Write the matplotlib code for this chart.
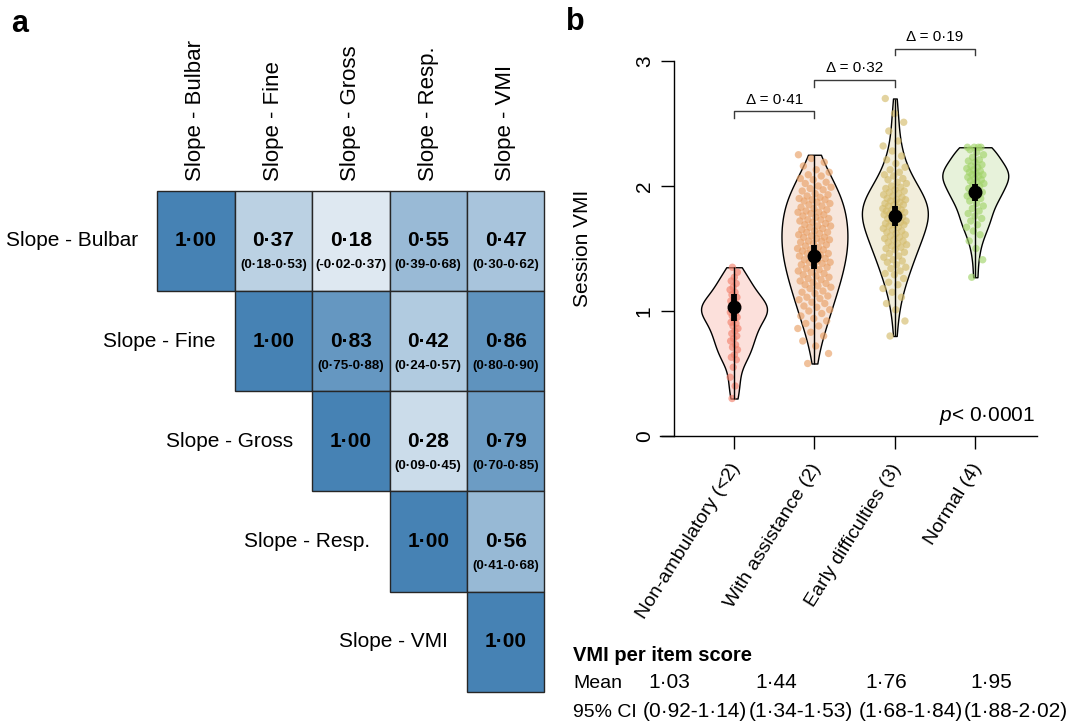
import numpy as np
import matplotlib
matplotlib.use('Agg')
import matplotlib.pyplot as plt
from matplotlib.colors import LinearSegmentedColormap
from matplotlib.patches import Rectangle
import matplotlib.transforms as mtransforms

plt.rcParams['font.family'] = ['Liberation Sans', 'DejaVu Sans']
plt.rcParams['mathtext.fontset'] = 'custom'
plt.rcParams['mathtext.it'] = 'Liberation Sans:italic'
plt.rcParams['mathtext.rm'] = 'Liberation Sans'

# ---------------- Panel a data ----------------
slope_labels = ['Slope - Bulbar', 'Slope - Fine', 'Slope - Gross', 'Slope - Resp.', 'Slope - VMI']
nan = np.nan
corr_r = [
    [1.00, 0.37, 0.18, 0.55, 0.47],
    [nan, 1.00, 0.83, 0.42, 0.86],
    [nan, nan, 1.00, 0.28, 0.79],
    [nan, nan, nan, 1.00, 0.56],
    [nan, nan, nan, nan, 1.00],
]
corr_lo = [
    [nan, 0.18, -0.02, 0.39, 0.30],
    [nan, nan, 0.75, 0.24, 0.80],
    [nan, nan, nan, 0.09, 0.70],
    [nan, nan, nan, nan, 0.41],
    [nan, nan, nan, nan, nan],
]
corr_hi = [
    [nan, 0.53, 0.37, 0.68, 0.62],
    [nan, nan, 0.88, 0.57, 0.90],
    [nan, nan, nan, 0.45, 0.85],
    [nan, nan, nan, nan, 0.68],
    [nan, nan, nan, nan, nan],
]

# ---------------- Panel b data ----------------
group_labels = ['Non-ambulatory (<2)', 'With assistance (2)', 'Early difficulties (3)', 'Normal (4)']
vmi_nonamb = [1.35, 1.31, 1.27, 1.24, 1.22, 1.19, 1.17, 1.15, 1.13, 1.11, 1.09, 1.08, 1.06,
              1.05, 1.04, 1.03, 1.02, 1.01, 1.00, 0.99, 0.98, 0.96, 0.95, 0.93, 0.91, 0.90,
              0.88, 0.86, 0.84, 0.82, 0.80, 0.78, 0.76, 0.73, 0.71, 0.69, 0.65, 0.63, 0.61,
              0.55, 0.47, 0.40, 0.30]
vmi_assist = [0.58, 0.66, 0.72, 0.76, 0.80, 0.83, 0.86, 0.88, 0.90, 0.92, 0.94, 0.96, 0.98,
              1.00, 1.01, 1.03, 1.04, 1.06, 1.07, 1.09,
              1.10, 1.11, 1.12, 1.14, 1.15, 1.16, 1.18, 1.19,
              1.20, 1.21, 1.22, 1.23, 1.24, 1.25, 1.26, 1.27, 1.28, 1.29,
              1.30, 1.31, 1.32, 1.33, 1.34, 1.35, 1.36, 1.37, 1.38, 1.39, 1.39,
              1.40, 1.41, 1.42, 1.43, 1.44, 1.45, 1.46, 1.46, 1.47, 1.48, 1.49, 1.49,
              1.50, 1.51, 1.52, 1.53, 1.54, 1.55, 1.56, 1.56, 1.57, 1.58, 1.59, 1.59,
              1.60, 1.61, 1.62, 1.63, 1.63, 1.64, 1.65, 1.66, 1.67, 1.68, 1.68, 1.69,
              1.70, 1.71, 1.72, 1.73, 1.73, 1.74, 1.75, 1.76, 1.77, 1.78, 1.79, 1.79,
              1.80, 1.81, 1.82, 1.83, 1.84, 1.85, 1.86, 1.87, 1.88, 1.89, 1.89,
              1.90, 1.91, 1.92, 1.93, 1.94, 1.96, 1.97, 1.98, 1.99,
              2.00, 2.02, 2.03, 2.05, 2.06, 2.08, 2.09,
              2.11, 2.13, 2.16, 2.19, 2.22, 2.25]
vmi_early = [0.80, 0.92, 1.01, 1.06, 1.11, 1.15, 1.18, 1.21, 1.23, 1.26, 1.29,
             1.30, 1.32, 1.34, 1.35, 1.37, 1.39,
             1.40, 1.41, 1.43, 1.44, 1.46, 1.47, 1.49,
             1.50, 1.51, 1.52, 1.53, 1.54, 1.55, 1.56, 1.57, 1.58, 1.59,
             1.60, 1.61, 1.62, 1.63, 1.64, 1.65, 1.66, 1.67, 1.68, 1.69, 1.69,
             1.70, 1.71, 1.72, 1.72, 1.73, 1.74, 1.75, 1.76, 1.77, 1.78, 1.78, 1.79, 1.79,
             1.80, 1.81, 1.81, 1.82, 1.83, 1.84, 1.85, 1.85, 1.86, 1.87, 1.88, 1.89, 1.89,
             1.90, 1.91, 1.92, 1.93, 1.94, 1.95, 1.96, 1.97, 1.98, 1.99,
             2.00, 2.02, 2.03, 2.05, 2.06, 2.08, 2.09,
             2.11, 2.13, 2.15, 2.18, 2.21, 2.24, 2.28,
             2.32, 2.36, 2.44, 2.51, 2.58, 2.70]
vmi_normal = [1.27, 1.41, 1.50, 1.56, 1.61, 1.64, 1.67, 1.69, 1.72, 1.74, 1.76, 1.78, 1.80,
              1.82, 1.84, 1.86, 1.88, 1.90, 1.91, 1.92, 1.93, 1.94, 1.95, 1.96, 1.98,
              2.00, 2.01, 2.02, 2.03, 2.04, 2.05, 2.06, 2.07, 2.08, 2.09, 2.09,
              2.10, 2.11, 2.12, 2.13, 2.14, 2.15, 2.16, 2.17, 2.19,
              2.20, 2.21, 2.23, 2.25, 2.27, 2.29, 2.31, 2.31, 2.31, 2.31]
vmi_means = [1.03, 1.44, 1.76, 1.95]
vmi_ci_lo = [0.92, 1.34, 1.68, 1.88]
vmi_ci_hi = [1.14, 1.53, 1.84, 2.02]
deltas = [0.41, 0.32, 0.19]
p_value_text = '< 0·0001'

point_colors = ['#F3836F', '#E9A066', '#D4BC6C', '#A2D46A']
fill_colors = ['#FCE0DB', '#F7E6DC', '#F2EEDC', '#E7F2DA']


def fmt(v):
    return f'{v:.2f}'.replace('.', '·')


W, H = 1069, 723
fig = plt.figure(figsize=(W / 100, H / 100), dpi=100)


def fx(px):
    return px / W


def fy(py):
    return 1 - py / H


# ================= Panel a =================
L, R_, T, B = 157.3, 544.3, 190.7, 692.0
ax_a = fig.add_axes([fx(L), fy(B), (R_ - L) / W, (B - T) / H])
cmap = LinearSegmentedColormap.from_list('wb', ['#FFFFFF', '#4682B4'])
ax_a.set_xlim(0, 5)
ax_a.set_ylim(5, 0)
ax_a.axis('off')
n = len(slope_labels)
for i in range(n):
    for j in range(n):
        v = corr_r[i][j]
        if np.isnan(v):
            continue
        ax_a.add_patch(Rectangle((j, i), 1, 1, facecolor=cmap(v), edgecolor='#262626',
                                 linewidth=1.0, clip_on=False))
        ax_a.text(j + 0.5, i + 0.5, fmt(v), ha='center', va='center',
                  fontsize=15, fontweight='bold', color='black')
        lo, hi = corr_lo[i][j], corr_hi[i][j]
        if not np.isnan(lo):
            ax_a.text(j + 0.5, i + 0.745, f'({fmt(lo)}-{fmt(hi)})', ha='center',
                      va='center', fontsize=9.6, fontweight='bold', color='black')

cw = (R_ - L) / n
rh = (B - T) / n
for k, lab in enumerate(slope_labels):
    fig.text(fx(L + cw * (k + 0.5)), fy(181), lab, rotation=90, ha='center', va='bottom',
             fontsize=16)
    fig.text(fx(L + cw * k - 19), fy(T + rh * (k + 0.5)), lab, ha='right', va='center',
             fontsize=15)

fig.text(fx(11), fy(9), 'a', fontsize=22, fontweight='bold', ha='left', va='top')
fig.text(fx(566), fy(7), 'b', fontsize=22, fontweight='bold', ha='left', va='top')

# ================= Panel b =================
bl, br, bt, bb = 660.0, 1037.0, 61.0, 436.0
ax = fig.add_axes([fx(bl), fy(bb), (br - bl) / W, (bb - bt) / H])
pos = np.arange(1, 5)
step = 80.4
ax.set_xlim(1 - (734 - bl) / step, 4 + (br - 975.3) / step)
ax.set_ylim(0, 3)

groups = [vmi_nonamb, vmi_assist, vmi_early, vmi_normal]
parts = ax.violinplot(groups, positions=pos, widths=0.82, showextrema=False,
                      showmeans=False, showmedians=False, bw_method=0.33)
for body, fc in zip(parts['bodies'], fill_colors):
    body.set_facecolor(fc)
    body.set_edgecolor('black')
    body.set_linewidth(1.0)
    body.set_alpha(1)
    body.set_zorder(1)

jit_w = [0.05, 0.21, 0.15, 0.11]
for k, g in enumerate(groups):
    m = len(g)
    offs = (((np.arange(m) * 0.6180339887 + 0.3) % 1.0) - 0.5) * 2 * jit_w[k]
    ax.scatter(pos[k] + offs, g, s=28, color=point_colors[k], alpha=0.65,
               edgecolors='none', zorder=2)

ax.vlines(pos, [min(g) for g in groups], [max(g) for g in groups], color='black',
          lw=1.0, zorder=3)
ax.vlines(pos, vmi_ci_lo, vmi_ci_hi, color='black', lw=4.2, zorder=4)
ax.plot(pos, vmi_means, 'o', color='black', ms=9, zorder=5)

# spines & ticks
for s in ['top', 'right']:
    ax.spines[s].set_visible(False)
ax.spines['left'].set_position(('data', 1 - (734 - 674) / step))
ax.spines['left'].set_bounds(0, 3)
ax.spines['left'].set_linewidth(1.0)
ax.spines['bottom'].set_linewidth(1.0)
ax.set_yticks([0, 1, 2, 3])
ax.set_yticklabels(['0', '1', '2', '3'], rotation=90, va='center', fontsize=15)
ax.tick_params(axis='y', length=9.5, width=1.0, pad=5)
ax.set_xticks(pos)
ax.set_xticklabels([])
ax.tick_params(axis='x', length=9.5, width=1.0)
xt = mtransforms.blended_transform_factory(ax.transData, ax.transAxes)
for k, lab in enumerate(group_labels):
    ax.text(pos[k] + 0.03, -(465 - bb) / (bb - bt), lab, transform=xt,
            rotation=58, rotation_mode='anchor', ha='right', va='center', fontsize=14)

fig.text(fx(583), fy(248), 'Session VMI', rotation=90, ha='center', va='center', fontsize=15)

# delta brackets
bracket_y = [2.60, 2.85, 3.10]
for k, d in enumerate(deltas):
    x1, x2 = pos[k], pos[k + 1]
    y = bracket_y[k]
    ax.plot([x1, x1, x2, x2], [y - 0.055, y, y, y - 0.055], color='#3a3a3a', lw=1.0,
            clip_on=False)
    ax.text((x1 + x2) / 2, y + 0.035, f'Δ = {fmt(d)}', ha='center', va='bottom',
            fontsize=11, clip_on=False)

ax.text(4.74, 0.16, '$p$' + p_value_text, ha='right', va='center', fontsize=15)

# table below
fig.text(fx(573), fy(661), 'VMI per item score', fontweight='bold', fontsize=14.5,
         ha='left', va='baseline')
fig.text(fx(573), fy(688), 'Mean', fontsize=14, ha='left', va='baseline')
fig.text(fx(573), fy(717), '95% CI', fontsize=14, ha='left', va='baseline')
mean_x = [648, 755, 865, 970]
ci_x = [643, 749, 859, 964]
for k in range(4):
    fig.text(fx(mean_x[k]), fy(688), fmt(vmi_means[k]), fontsize=15, ha='left',
             va='baseline')
    fig.text(fx(ci_x[k]), fy(717), f'({fmt(vmi_ci_lo[k])}-{fmt(vmi_ci_hi[k])})',
             fontsize=15, ha='left', va='baseline')

fig.savefig('out.png', dpi=100)
